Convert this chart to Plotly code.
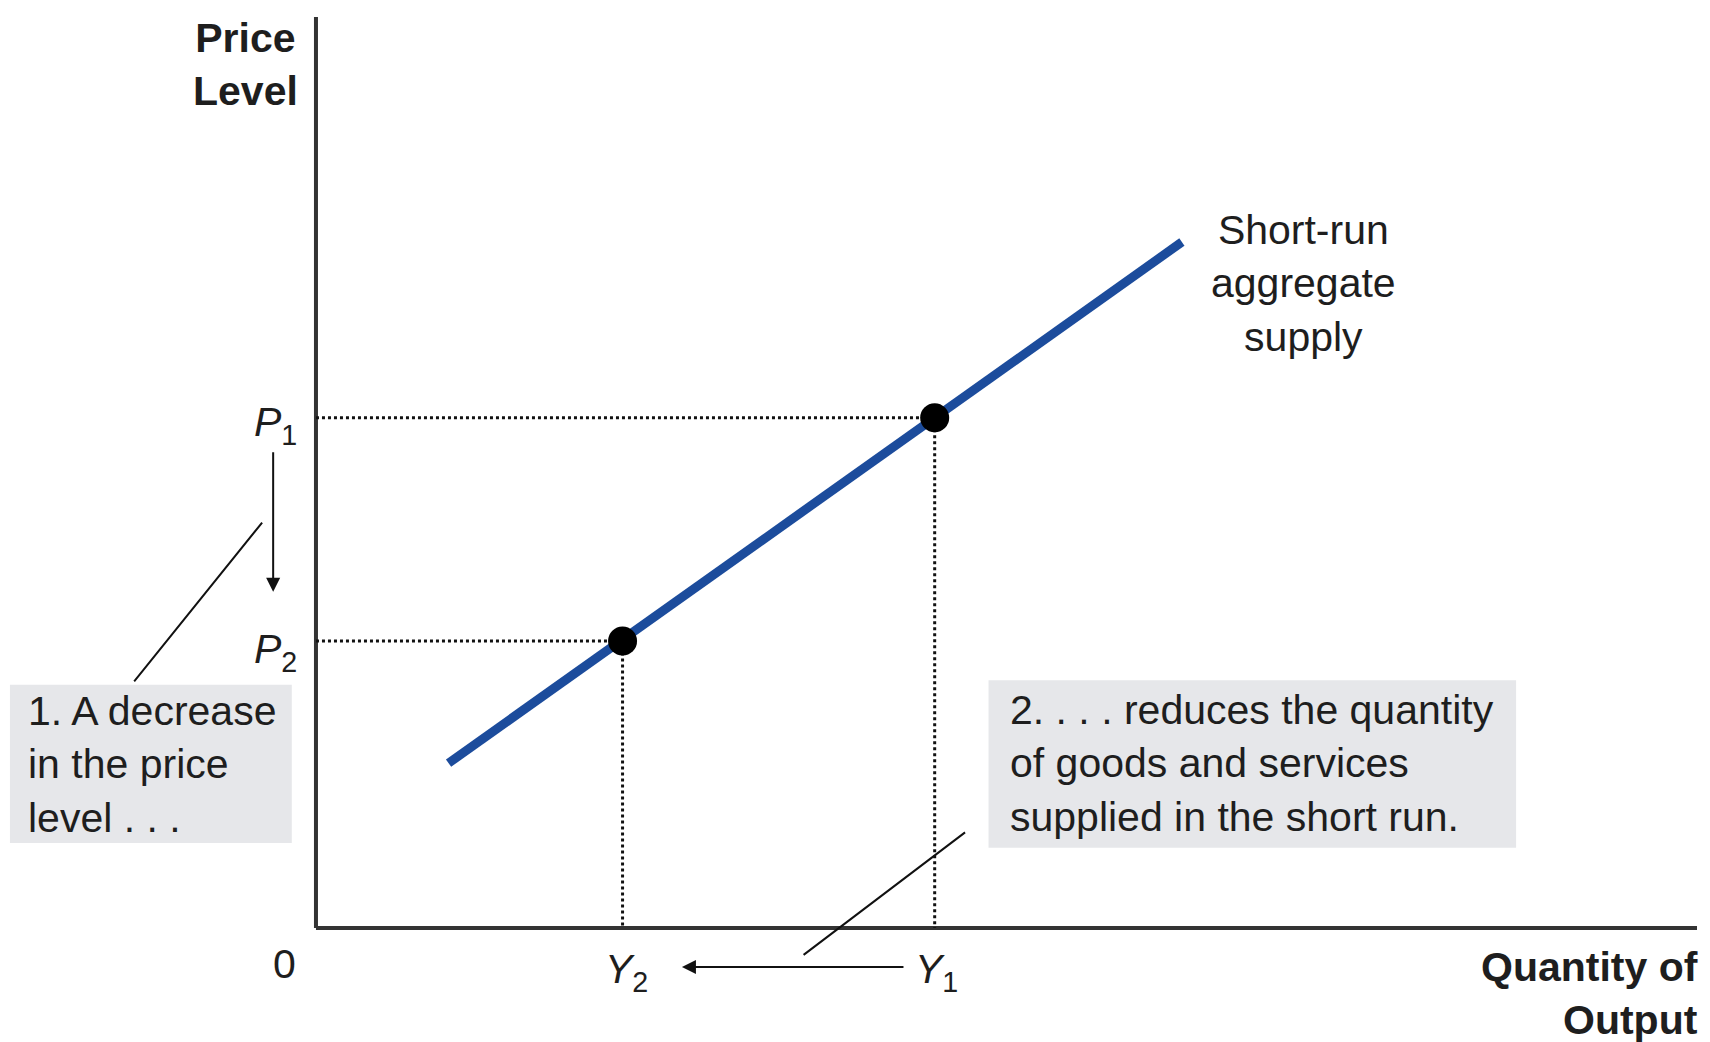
import plotly.graph_objects as go

# data units: origin at the axes corner, both axes run 0..100
AXIS_MAX_X = 100
AXIS_MAX_Y = 100

Y_LEVELS = [22.2, 44.8]      # Y2, Y1
P_LEVELS = [31.5, 56.0]      # P2, P1
SRAS_X = [9.6, 62.7]
SRAS_Y = [18.1, 75.3]

X_RANGE = [-22.30, 101.52]
Y_RANGE = [-13.39, 100.99]

_FONT = "Liberation Sans, Arial, sans-serif"
_TXT = "#1e1e1e"
_BLUE = "#1c4c9c"
_BOX = "#e6e7ea"
FS = 41

fig = go.Figure()

# axes
fig.add_trace(go.Scatter(x=[0, AXIS_MAX_X], y=[0, 0], mode="lines",
                         line=dict(color="#333333", width=4), hoverinfo="skip"))
fig.add_trace(go.Scatter(x=[0, 0], y=[0, AXIS_MAX_Y], mode="lines",
                         line=dict(color="#333333", width=4), hoverinfo="skip"))

# dotted guides
for yv, pv in zip(Y_LEVELS, P_LEVELS):
    fig.add_trace(go.Scatter(x=[0, yv, yv], y=[pv, pv, 0], mode="lines",
                             line=dict(color="#111111", width=3, dash="dot"),
                             hoverinfo="skip"))

# SRAS curve
fig.add_trace(go.Scatter(x=SRAS_X, y=SRAS_Y, mode="lines",
                         line=dict(color=_BLUE, width=9), hoverinfo="skip"))

# equilibrium points
fig.add_trace(go.Scatter(x=Y_LEVELS, y=P_LEVELS, mode="markers",
                         marker=dict(color="black", size=29), hoverinfo="skip"))

# shaded label boxes
fig.add_shape(type="rect", x0=-22.16, x1=-1.75, y0=9.33, y1=26.7,
              fillcolor=_BOX, line=dict(width=0), layer="below")
fig.add_shape(type="rect", x0=48.7, x1=86.9, y0=8.8, y1=27.2,
              fillcolor=_BOX, line=dict(width=0), layer="below")


def txt(x, y, text, xanchor="center", yanchor="middle", align="center", bold=False, size=FS):
    if bold:
        text = "<b>" + text.replace("<br>", "</b><br><b>") + "</b>"
    fig.add_annotation(x=x, y=y, xref="x", yref="y", text=text, showarrow=False,
                       xanchor=xanchor, yanchor=yanchor, align=align,
                       font=dict(family=_FONT, size=size, color=_TXT))


def arrow(x0, y0, x1, y1, head=0):
    fig.add_annotation(x=x1, y=y1, ax=x0, ay=y0, xref="x", yref="y",
                       axref="x", ayref="y", text="", showarrow=True,
                       arrowhead=head, arrowsize=1.4, arrowwidth=2,
                       arrowcolor="#111111", standoff=0, startstandoff=0)


txt(-1.15, 94.8, "Price<br>Level", xanchor="right", bold=True)
txt(-2.3, -4.0, "0")
txt(100.25, -7.2, "Quantity of<br>Output", xanchor="right", align="right", bold=True)

txt(-1.2, P_LEVELS[1] - 0.8, "<i>P</i><sub>1</sub>", xanchor="right")
txt(-1.2, P_LEVELS[0] - 1.2, "<i>P</i><sub>2</sub>", xanchor="right")
txt(Y_LEVELS[0] + 0.3, -4.8, "<i>Y</i><sub>2</sub>")
txt(Y_LEVELS[1] + 0.1, -4.8, "<i>Y</i><sub>1</sub>")

txt(71.5, 70.8, "Short-run<br>aggregate<br>supply")
txt(-21.0, 18.0, "1. A decrease<br>in the price<br>level . . .", xanchor="left", align="left")
txt(50.1, 18.1, "2. . . . reduces the quantity<br>of goods and services<br>supplied in the short run.",
    xanchor="left", align="left")

arrow(-3.1, 52.4, -3.1, 36.9, head=2)
arrow(42.65, -4.28, 26.5, -4.28, head=2)
arrow(-13.25, 26.9, -3.9, 44.5)
arrow(35.2, -3.07, 47.0, 10.5)

fig.update_xaxes(range=X_RANGE, visible=False, fixedrange=True)
fig.update_yaxes(range=Y_RANGE, visible=False, fixedrange=True)
fig.update_layout(
    width=1710, height=1042,
    margin=dict(l=0, r=0, t=0, b=0),
    paper_bgcolor="white", plot_bgcolor="white",
    showlegend=False,
)
fig.write_html("out.html")
